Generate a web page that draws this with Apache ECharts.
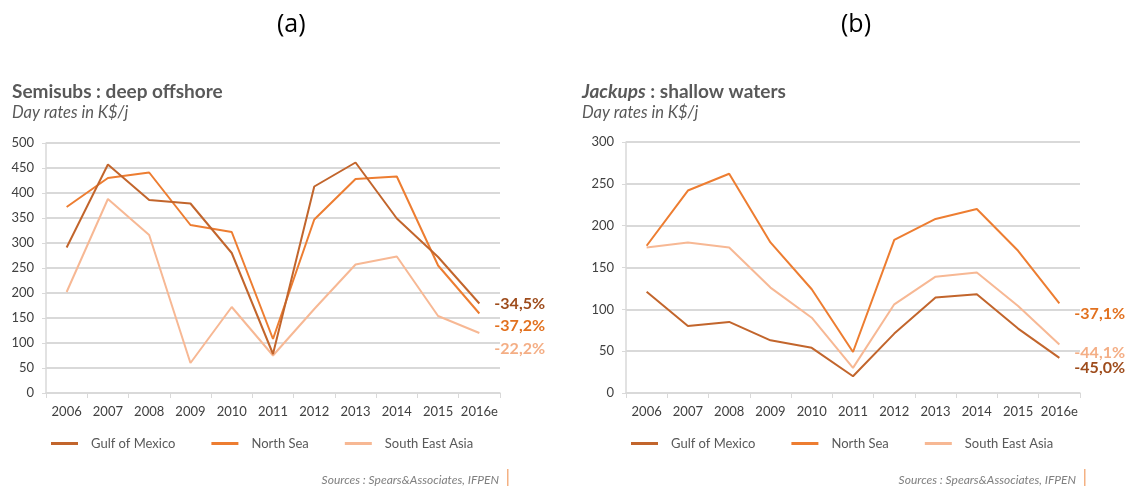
<!DOCTYPE html>
<html>
<head>
<meta charset="utf-8">
<script src="https://cdn.jsdelivr.net/npm/echarts@6/dist/echarts.min.js"></script>
<style>
html,body{margin:0;padding:0;background:#fff;}
#c{width:1127px;height:486px;}
</style>
</head>
<body>
<div id="c"></div>
<script>
// ---- data ----
const years = ['2006','2007','2008','2009','2010','2011','2012','2013','2014','2015','2016e'];
const seriesNames = ['Gulf of Mexico','North Sea','South East Asia'];

// (a) Semisubs : deep offshore
const semiGulf  = [291, 457, 386, 379, 280, 78, 413, 461, 349, 272, 179];
const semiNorth = [372, 430, 441, 336, 322, 108, 347, 428, 433, 255, 159];
const semiSEA   = [202, 388, 316, 60, 172, 75, 168, 257, 273, 154, 120];
const semiPct   = ['-34,5%', '-37,2%', '-22,2%'];
const semiTicks = [0, 500, 50];

// (b) Jackups : shallow waters
const jackGulf  = [121, 80, 85, 63, 54, 20, 71, 114, 118, 77, 42];
const jackNorth = [176, 242, 262, 180, 124, 49, 183, 208, 220, 170, 107];
const jackSEA   = [174, 180, 174, 126, 90, 30, 106, 139, 144, 104, 58];
const jackPct   = ['-45,0%', '-37,1%', '-44,1%'];
const jackTicks = [0, 300, 50];

// ---- styles ----
const FONT = 'Lato, "Open Sans", sans-serif';
const lineColors = ['#C2652C', '#ED7D31', '#F7B894'];
const labelColors = ['#9E4C1C', '#E2711F', '#F4AE85'];
const gridGray = '#D9D9D9';

function xAxis(gi){
  return {
    type:'category', gridIndex:gi, data:years, boundaryGap:true,
    axisLine:{show:true,lineStyle:{color:gridGray,width:1.5}},
    axisTick:{show:true,length:5,lineStyle:{color:gridGray}},
    axisLabel:{color:'#404040',fontSize:13,fontFamily:FONT,margin:12,interval:0},
    splitLine:{show:false}
  };
}
function yAxis(gi, t){
  return {
    type:'value', gridIndex:gi, min:t[0], max:t[1], interval:t[2],
    axisLine:{show:true,lineStyle:{color:gridGray,width:1.5}},
    axisTick:{show:true,length:4,lineStyle:{color:gridGray}},
    axisLabel:{color:'#404040',fontSize:13,fontFamily:FONT,margin:12},
    splitLine:{show:true,lineStyle:{color:gridGray,width:2}}
  };
}
function line(name, gi, data, ci, pct, dy){
  return {
    type:'line', name:name, xAxisIndex:gi, yAxisIndex:gi, data:data,
    symbol:'none', smooth:false, color:lineColors[ci],
    lineStyle:{width:2,color:lineColors[ci]},
    endLabel:{show:true, formatter:pct, distance:0, offset:[15,dy],
      color:labelColors[ci], fontSize:16, fontWeight:'bold', fontFamily:FONT},
    emphasis:{disabled:true}, animation:false
  };
}
function legend(left){
  return {
    left:left, top:437, padding:0, data:seriesNames, icon:'rect', itemWidth:27, itemHeight:3,
    itemGap:36, selectedMode:false,
    textStyle:{color:'#595959',fontSize:13,fontFamily:FONT,padding:[0,0,0,8]}
  };
}
const titleText = {fontWeight:'bold',color:'#595959',fontFamily:FONT,fontSize:19};
const subText = {fontSize:16.5,fontStyle:'italic',color:'#595959',fontFamily:FONT};
const srcText = {fontSize:12,fontStyle:'italic',fontWeight:'normal',color:'#7F7F7F',fontFamily:FONT};
const capText = {fontSize:25,fontWeight:'normal',color:'#000',fontFamily:'"Open Sans", sans-serif'};

const chart = echarts.init(document.getElementById('c'), null, {renderer:'canvas'});
chart.setOption({
  backgroundColor:'#fff',
  animation:false,
  title:[
    {text:'(a)', left:277, top:12, padding:0, textStyle:capText},
    {text:'(b)', left:841, top:12, padding:0, textStyle:capText},
    {text:'Semisubs : deep offshore', subtext:'Day rates in K$/j', left:12, top:82, padding:0, itemGap:3,
      textStyle:titleText, subtextStyle:subText},
    {text:'{i|Jackups} : shallow waters', subtext:'Day rates in K$/j', left:582, top:82, padding:0, itemGap:3,
      textStyle:Object.assign({rich:{i:Object.assign({fontStyle:'italic'}, titleText)}}, titleText),
      subtextStyle:subText},
    {text:'Sources : Spears&Associates, IFPEN', right:1127-499, top:474, padding:0, textStyle:srcText},
    {text:'Sources : Spears&Associates, IFPEN', right:1127-1076, top:474, padding:0, textStyle:srcText}
  ],
  graphic:[
    {type:'rect', shape:{x:507,y:469,width:1.5,height:17}, style:{fill:'#F4B183'}},
    {type:'rect', shape:{x:1084,y:469,width:1.5,height:17}, style:{fill:'#F4B183'}}
  ],
  legend:[legend(51), legend(631)],
  grid:[
    {left:46, right:1127-500, top:143, bottom:486-393},
    {left:626, right:1127-1080, top:142, bottom:486-393}
  ],
  xAxis:[xAxis(0), xAxis(1)],
  yAxis:[yAxis(0, semiTicks), yAxis(1, jackTicks)],
  series:[
    line(seriesNames[2], 0, semiSEA, 2, semiPct[2], 16),
    line(seriesNames[1], 0, semiNorth, 1, semiPct[1], 12),
    line(seriesNames[0], 0, semiGulf, 0, semiPct[0], 0),
    line(seriesNames[2], 1, jackSEA, 2, jackPct[2], 8),
    line(seriesNames[1], 1, jackNorth, 1, jackPct[1], 10),
    line(seriesNames[0], 1, jackGulf, 0, jackPct[0], 10)
  ]
});
</script>
</body>
</html>
